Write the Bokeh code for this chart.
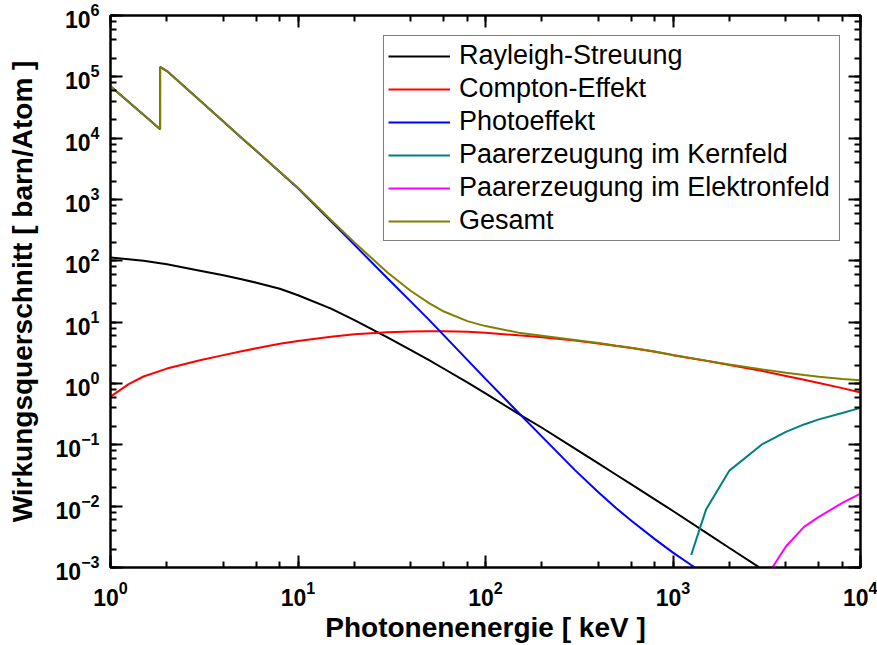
from bokeh.plotting import figure
from bokeh.models import (Range1d, LogAxis, LogTicker, Legend, LegendItem,
                          CustomJSTickFormatter)
from bokeh.embed import file_html
from bokeh.resources import INLINE

# ---- data (keV, barn/Atom) ----
energy_rayleigh = [1, 1.5, 2, 3, 4, 5, 6, 8, 10, 15, 20, 30, 40, 50, 60, 80, 100,
                   150, 200, 300, 400, 500, 600, 800, 1000, 1500, 2000, 3000]
rayleigh = [113, 100, 88, 69, 58, 50.2, 44, 35, 27.5, 16.6, 10.8, 5.65, 3.5, 2.4,
            1.74, 1.04, 0.69, 0.32, 0.19, 0.087, 0.0497, 0.0322, 0.0226, 0.0129,
            0.00834, 0.0037, 0.00208, 0.00093]

energy_compton = [1, 1.25, 1.5, 2, 3, 4, 5, 6, 8, 10, 15, 20, 30, 40, 50, 60, 80,
                  100, 150, 200, 300, 400, 500, 600, 800, 1000, 1500, 2000, 3000,
                  4000, 5000, 6000, 8000, 10000]
compton = [0.61, 0.975, 1.30, 1.75, 2.4, 2.9, 3.35, 3.75, 4.45, 4.95, 5.8, 6.35,
           6.85, 7.05, 7.1, 7.08, 6.95, 6.75, 6.1, 5.7, 5.0, 4.5, 4.1, 3.8, 3.3,
           2.9, 2.35, 2.0, 1.6, 1.33, 1.15, 1.02, 0.84, 0.715]

energy_photo = [1, 1.5, 1.839, 1.839, 2, 3, 4, 5, 6, 8, 10, 15, 20, 30, 40, 50, 60,
                80, 100, 150, 200, 300, 400, 500, 600, 800, 1000, 1250, 1500]
photo = [7.0e4, 2.4e4, 1.4e4, 1.45e5, 1.24e5, 4.1e4, 1.87e4, 1.01e4, 6.2e3, 2.8e3,
         1.52e3, 440, 182, 52, 21.6, 10.9, 6.1, 2.43, 1.19, 0.333, 0.136, 0.0387,
         0.0168, 0.00918, 0.00578, 0.0029, 0.00175, 0.0011, 0.00076]

energy_pair_nuc = [1250, 1500, 2000, 3000, 4000, 5000, 6000, 8000, 10000]
pair_nuc = [0.0016, 0.0088, 0.038, 0.103, 0.163, 0.215, 0.26, 0.33, 0.40]

energy_pair_el = [3000, 4000, 5000, 6000, 8000, 10000]
pair_el = [0.00056, 0.0022, 0.0046, 0.0067, 0.0113, 0.016]

energy_total = [1, 1.5, 1.839, 1.839, 2, 3, 4, 5, 6, 8, 10, 15, 20, 30, 40, 50, 60,
                80, 100, 150, 200, 300, 400, 500, 600, 800, 1000, 1500, 2000, 3000,
                4000, 5000, 6000, 8000, 10000]
total = [7.01e4, 2.41e4, 1.41e4, 1.45e5, 1.241e5, 4.11e4, 1.876e4, 1.015e4, 6246,
         2840, 1552, 462, 199, 64.5, 32.2, 20.4, 14.9, 10.4, 8.63, 6.75, 6.03, 5.13,
         4.57, 4.14, 3.83, 3.32, 2.91, 2.36, 2.04, 1.70, 1.50, 1.37, 1.29, 1.18, 1.13]

labels = ["Rayleigh-Streuung", "Compton-Effekt", "Photoeffekt",
          "Paarerzeugung im Kernfeld", "Paarerzeugung im Elektronfeld", "Gesamt"]
colors = ["#000000", "#FF0000", "#0000FF", "#008080", "#FF00FF", "#808000"]

FONT = "Liberation Sans"

p = figure(width=877, height=645, x_axis_type="log", y_axis_type="log",
           x_range=Range1d(1, 1e4), y_range=Range1d(1e-3, 1e6),
           output_backend="svg", toolbar_location=None,
           min_border_left=110, min_border_right=17, min_border_top=15,
           min_border_bottom=75)
p.grid.visible = False
p.outline_line_color = "black"
p.outline_line_width = 2
p.background_fill_color = "white"
p.border_fill_color = "white"


def style_axis(ax, show_labels=True):
    ax.ticker = LogTicker(num_minor_ticks=5)
    ax.axis_line_width = 2
    ax.axis_line_color = "black"
    ax.major_tick_in = 12
    ax.major_tick_out = 0
    ax.minor_tick_in = 6
    ax.minor_tick_out = 0
    ax.major_tick_line_width = 2
    ax.minor_tick_line_width = 2
    ax.major_label_text_font = FONT
    ax.major_label_text_font_style = "bold"
    ax.major_label_text_font_size = "23px"
    ax.major_label_text_color = "black"
    if not show_labels:
        ax.formatter = CustomJSTickFormatter(code="return ''")
        ax.major_label_standoff = 0


xa = p.xaxis[0]
ya = p.yaxis[0]
style_axis(xa)
style_axis(ya)
xa.major_label_standoff = 13
ya.major_label_standoff = 11
xa.axis_label = "Photonenenergie [ keV ]"
ya.axis_label = "Wirkungsquerschnitt [ barn/Atom ]"
for ax, size in ((xa, "28px"), (ya, "28px")):
    ax.axis_label_text_font = FONT
    ax.axis_label_text_font_style = "bold"
    ax.axis_label_text_font_size = size
    ax.axis_label_text_color = "black"
xa.axis_label_standoff = 3
ya.axis_label_standoff = 15

top_axis = LogAxis()
style_axis(top_axis, show_labels=False)
p.add_layout(top_axis, "above")
right_axis = LogAxis()
style_axis(right_axis, show_labels=False)
p.add_layout(right_axis, "right")

series = [(energy_rayleigh, rayleigh), (energy_compton, compton),
          (energy_photo, photo), (energy_pair_nuc, pair_nuc),
          (energy_pair_el, pair_el), (energy_total, total)]
renderers = []
for (xs, ys), c in zip(series, colors):
    r = p.line(xs, ys, line_color=c, line_width=2)
    renderers.append(r)

legend = Legend(items=[LegendItem(label=l, renderers=[r]) for l, r in zip(labels, renderers)],
                location="top_right", margin=20, padding=4, spacing=2,
                glyph_width=62, glyph_height=30, label_height=30, label_width=376,
                label_standoff=9, label_text_font=FONT,
                label_text_font_size="27px", label_text_color="black",
                border_line_color="black", border_line_width=1,
                background_fill_color="white", background_fill_alpha=1)
p.add_layout(legend)

open("out.html", "w").write(file_html(p, INLINE))
